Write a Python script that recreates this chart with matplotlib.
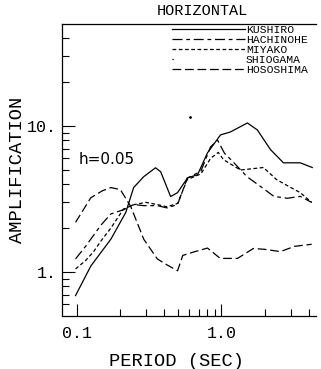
import matplotlib
matplotlib.use('Agg')
import numpy as np
import matplotlib.pyplot as plt
from matplotlib.lines import Line2D
from matplotlib.ticker import FixedLocator, NullFormatter

# period (sec) / amplification
kushiro_T = [0.098, 0.125, 0.172, 0.218, 0.247, 0.29, 0.35, 0.38, 0.445, 0.497, 0.583, 0.683, 0.80, 0.985, 1.15, 1.51, 1.77, 2.18, 2.68, 3.5, 4.24]
kushiro_A = [0.69, 1.1, 1.68, 2.56, 3.79, 4.5, 5.18, 4.86, 3.29, 3.5, 4.42, 4.64, 6.55, 8.7, 9.1, 10.5, 9.4, 6.9, 5.6, 5.6, 5.2]

hachinohe_T = [0.098, 0.115, 0.147, 0.172, 0.212, 0.247, 0.29, 0.36, 0.42, 0.497, 0.58, 0.72, 0.84, 0.94, 1.05, 1.2, 1.5, 1.9, 2.3, 2.85, 3.5, 4.2]
hachinohe_A = [1.23, 1.5, 2.1, 2.5, 2.68, 2.9, 2.85, 2.85, 2.75, 2.9, 4.4, 4.9, 7.2, 8.0, 6.5, 5.7, 4.5, 3.8, 3.3, 3.2, 3.3, 3.0]

miyako_T = [0.098, 0.115, 0.13, 0.15, 0.172, 0.21, 0.25, 0.3, 0.36, 0.42, 0.497, 0.58, 0.72, 0.84, 0.95, 1.03, 1.35, 1.95, 2.4, 3.0, 3.5, 4.2]
miyako_A = [1.05, 1.2, 1.37, 1.68, 2.0, 2.7, 2.9, 3.0, 2.9, 2.8, 2.95, 4.3, 4.7, 6.0, 6.6, 5.9, 5.0, 5.2, 4.3, 3.8, 3.5, 3.0]

shiogama_T = [0.61]
shiogama_A = [11.5]

hososhima_T = [0.098, 0.125, 0.15, 0.172, 0.2, 0.236, 0.29, 0.36, 0.42, 0.497, 0.54, 0.64, 0.80, 0.98, 1.29, 1.66, 2.0, 2.55, 3.2, 4.2]
hososhima_A = [2.19, 3.23, 3.6, 3.79, 3.67, 2.81, 1.68, 1.23, 1.12, 1.02, 1.3, 1.37, 1.46, 1.24, 1.24, 1.45, 1.43, 1.38, 1.5, 1.55]

mono = 'Liberation Mono'

fig = plt.figure(figsize=(3.21, 3.69), dpi=100)
ax = fig.add_axes([62/321, 1 - 316/369, 254/321, 292/369])

lw = 0.9
ax.plot(kushiro_T, kushiro_A, color='black', lw=lw, linestyle='-')
ax.plot(hachinohe_T, hachinohe_A, color='black', lw=lw, linestyle=(0, (8, 3, 3, 3)))
ax.plot(miyako_T, miyako_A, color='black', lw=lw, linestyle=(0, (3, 2)))
ax.plot(shiogama_T, shiogama_A, color='black', lw=0, marker='.', markersize=2)
ax.plot(hososhima_T, hososhima_A, color='black', lw=lw, linestyle=(0, (7, 3)))

ax.set_xscale('log')
ax.set_yscale('log')
ax.set_xlim(0.079, 4.5)
ax.set_ylim(0.5, 50)

ax.xaxis.set_major_locator(FixedLocator([0.1, 1.0]))
ax.xaxis.set_minor_locator(FixedLocator([0.2, 0.3, 0.4, 0.5, 0.6, 0.7, 0.8, 0.9, 2, 3, 4]))
ax.set_xticklabels(['0.1', '1.0'])
ax.xaxis.set_minor_formatter(NullFormatter())
ax.yaxis.set_major_locator(FixedLocator([1, 10]))
ax.yaxis.set_minor_locator(FixedLocator([0.6, 0.7, 0.8, 0.9, 2, 3, 4, 5, 6, 7, 8, 9, 20, 30, 40]))
ax.set_yticklabels(['1.', '10.'])
ax.yaxis.set_minor_formatter(NullFormatter())

ax.tick_params(which='both', direction='in', top=False, right=False, width=0.8, colors='black')
ax.tick_params(which='major', length=9, labelsize=12)
ax.tick_params(axis='x', which='major', pad=7)
ax.tick_params(axis='y', which='major', pad=4)
ax.tick_params(which='minor', length=5)
for lab in ax.get_xticklabels() + ax.get_yticklabels():
    lab.set_family(mono)

ax.spines['right'].set_visible(False)
for s in ['left', 'bottom', 'top']:
    ax.spines[s].set_linewidth(0.9)

ax.set_xlabel('PERIOD (SEC)', fontsize=13.5, family=mono)
ax.xaxis.set_label_coords(0.449, -0.125)
ax.set_ylabel('AMPLIFICATION', fontsize=13.5, family=mono, labelpad=0)
fig.text(202/321, 1 - 11/369, 'HORIZONTAL', fontsize=11, family=mono, ha='center', va='center')
ax.text(79/321, 1 - 160/369, 'h=0.05', fontsize=11, transform=fig.transFigure, va='center')

handles = [
    Line2D([], [], color='black', lw=lw, linestyle='-'),
    Line2D([], [], color='black', lw=lw, linestyle=(0, (8, 3, 3, 3))),
    Line2D([], [], color='black', lw=lw, linestyle=(0, (3, 2))),
    Line2D([], [], color='black', lw=lw, linestyle=(0, (1, 100))),
    Line2D([], [], color='black', lw=lw, linestyle=(0, (7, 3))),
]
labels = ['KUSHIRO', 'HACHINOHE', 'MIYAKO', 'SHIOGAMA', 'HOSOSHIMA']
fig.legend(handles, labels, loc='upper left', bbox_to_anchor=(172/321, 1 - 25/369),
           frameon=False, borderpad=0, borderaxespad=0, handlelength=6.4, handletextpad=0.1,
           labelspacing=0.0, prop={'family': mono, 'size': 8.2})

fig.savefig('out.png', dpi=100)
